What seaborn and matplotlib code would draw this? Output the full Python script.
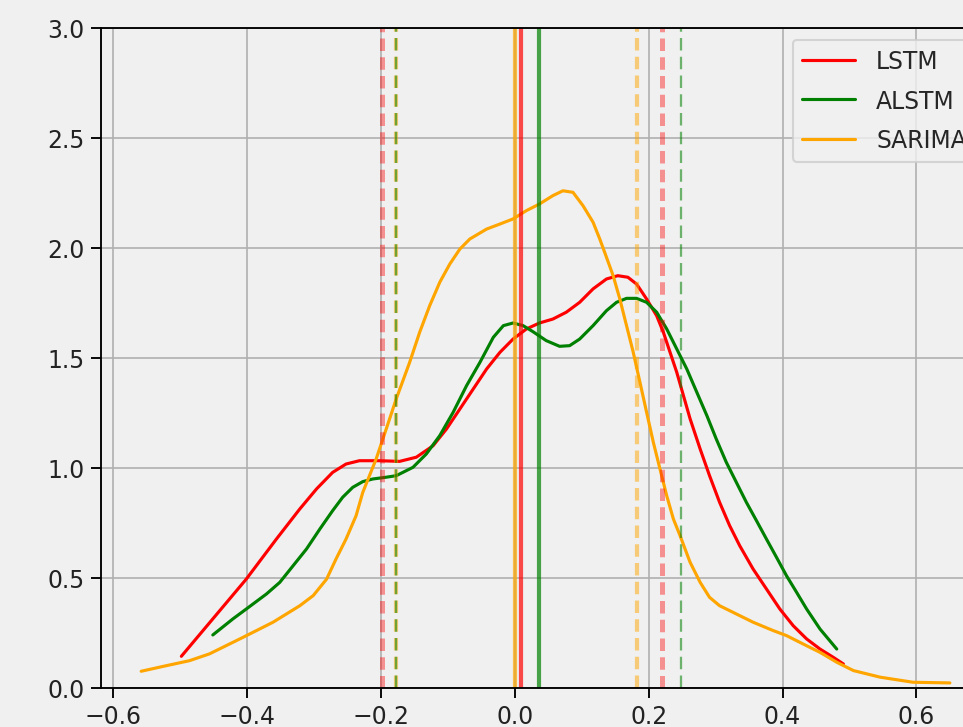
import numpy as np
import pandas as pd
import matplotlib
matplotlib.use("Agg")
import matplotlib.pyplot as plt
import seaborn as sns

models = ["LSTM", "ALSTM", "SARIMA"]
colors = ["red", "green", "orange"]

lstm_x = [-0.498, -0.401, -0.356, -0.321, -0.296, -0.272, -0.252, -0.232, -0.202, -0.172,
          -0.147, -0.122, -0.102, -0.082, -0.062, -0.042, -0.022, -0.0025, 0.0175, 0.037,
          0.057, 0.077, 0.097, 0.117, 0.137, 0.154, 0.169, 0.182, 0.197, 0.212,
          0.222, 0.232, 0.242, 0.252, 0.262, 0.277, 0.291, 0.306, 0.321, 0.336,
          0.356, 0.376, 0.396, 0.416, 0.436, 0.456, 0.476, 0.491]
lstm_y = [0.144, 0.495, 0.677, 0.814, 0.905, 0.980, 1.018, 1.033, 1.033, 1.030,
          1.049, 1.101, 1.177, 1.268, 1.359, 1.450, 1.526, 1.586, 1.632, 1.659,
          1.677, 1.708, 1.753, 1.814, 1.859, 1.874, 1.867, 1.836, 1.768, 1.692,
          1.617, 1.526, 1.435, 1.329, 1.223, 1.086, 0.965, 0.844, 0.738, 0.647,
          0.541, 0.450, 0.359, 0.283, 0.223, 0.177, 0.139, 0.109]

alstm_x = [-0.451, -0.421, -0.401, -0.371, -0.351, -0.331, -0.311, -0.291, -0.272, -0.257,
           -0.242, -0.227, -0.212, -0.192, -0.177, -0.152, -0.132, -0.112, -0.092, -0.072,
           -0.052, -0.032, -0.017, -0.0025, 0.0125, 0.027, 0.047, 0.067, 0.082, 0.097,
           0.117, 0.137, 0.152, 0.167, 0.182, 0.197, 0.212, 0.227, 0.242, 0.257,
           0.272, 0.287, 0.301, 0.316, 0.331, 0.346, 0.361, 0.376, 0.391, 0.406,
           0.421, 0.436, 0.456, 0.481]
alstm_y = [0.241, 0.314, 0.359, 0.427, 0.480, 0.556, 0.632, 0.723, 0.806, 0.867,
           0.912, 0.938, 0.950, 0.958, 0.965, 1.003, 1.064, 1.147, 1.253, 1.374,
           1.480, 1.594, 1.647, 1.659, 1.647, 1.620, 1.579, 1.553, 1.556, 1.586,
           1.647, 1.715, 1.753, 1.771, 1.771, 1.753, 1.708, 1.632, 1.541, 1.450,
           1.344, 1.238, 1.132, 1.026, 0.935, 0.844, 0.761, 0.677, 0.594, 0.510,
           0.435, 0.359, 0.268, 0.177]

sarima_x = [-0.558, -0.521, -0.486, -0.456, -0.406, -0.361, -0.321, -0.301, -0.281, -0.267,
            -0.252, -0.237, -0.227, -0.217, -0.207, -0.192, -0.177, -0.157, -0.142, -0.127,
            -0.112, -0.097, -0.082, -0.067, -0.042, -0.022, -0.0025, 0.0175, 0.037, 0.057,
            0.072, 0.087, 0.102, 0.117, 0.127, 0.137, 0.147, 0.157, 0.167, 0.177,
            0.187, 0.197, 0.207, 0.217, 0.227, 0.237, 0.247, 0.262, 0.277, 0.291,
            0.306, 0.326, 0.356, 0.386, 0.406, 0.436, 0.456, 0.481, 0.506, 0.546,
            0.595, 0.650]
sarima_y = [0.076, 0.101, 0.124, 0.155, 0.230, 0.299, 0.374, 0.420, 0.495, 0.586,
            0.677, 0.783, 0.889, 0.965, 1.041, 1.177, 1.314, 1.480, 1.617, 1.738,
            1.844, 1.927, 1.995, 2.041, 2.086, 2.109, 2.132, 2.170, 2.200, 2.238,
            2.260, 2.253, 2.192, 2.117, 2.041, 1.958, 1.874, 1.768, 1.647, 1.526,
            1.390, 1.253, 1.117, 0.995, 0.874, 0.768, 0.692, 0.571, 0.480, 0.412,
            0.374, 0.344, 0.299, 0.261, 0.238, 0.192, 0.162, 0.117, 0.079, 0.049,
            0.026, 0.023]

means = [0.009, 0.036, 0.001]
lower_pct = [-0.199, -0.177, -0.177]
upper_pct = [0.220, 0.248, 0.182]

sns.set_style("ticks")
plt.rcParams['font.family'] = ['DejaVu Sans']
plt.rcParams['font.size'] = 11.3
plt.rcParams['lines.scale_dashes'] = False

fig = plt.figure(figsize=(6.42, 4.8533), dpi=150, facecolor="#f0f0f0")
ax = fig.add_axes([0.1049, 0.0536, 0.9211, 0.9066])
ax.set_facecolor("#f0f0f0")

curves = [(lstm_x, lstm_y), (alstm_x, alstm_y), (sarima_x, sarima_y)]
for (xs, ys), name, c in zip(curves, models, colors):
    df = pd.DataFrame({"x": xs, "density": ys})
    sns.lineplot(data=df, x="x", y="density", sort=False, estimator=None,
                 color=c, lw=1.5, label=name, ax=ax)

dash_lw = [2.4, 1.1, 2.0]
dash_alpha = [0.4, 0.55, 0.5]
# draw SARIMA first, then LSTM, then ALSTM so the thin green dashes sit on top
for i in [2, 0, 1]:
    c = colors[i]
    ax.axvline(means[i], color=c, lw=2, alpha=0.7)
    ax.axvline(lower_pct[i], color=c, lw=dash_lw[i], ls=(0, (6, 3)), alpha=dash_alpha[i])
    ax.axvline(upper_pct[i], color=c, lw=dash_lw[i], ls=(0, (6, 3)), alpha=dash_alpha[i])

ax.set_xlim(-0.618, 0.707)
ax.set_ylim(0, 3.0)
ax.set_xlabel("")
ax.set_ylabel("")
ax.grid(True, color="#b0b0b0", lw=0.8)
ax.set_axisbelow(True)
for s in ax.spines.values():
    s.set_color("black")
    s.set_linewidth(0.9)
ax.tick_params(labelsize=11.3, length=4.8, width=0.9, pad=3.0,
               colors="black", labelcolor="#222222")
leg = ax.legend(loc="upper right", fontsize=11.3, frameon=True, facecolor="#f0f0f0",
                edgecolor="#cccccc", framealpha=0.8, labelspacing=0.66,
                handlelength=2.25, handletextpad=0.9)

fig.savefig("out.png", dpi=150, facecolor="#f0f0f0")
